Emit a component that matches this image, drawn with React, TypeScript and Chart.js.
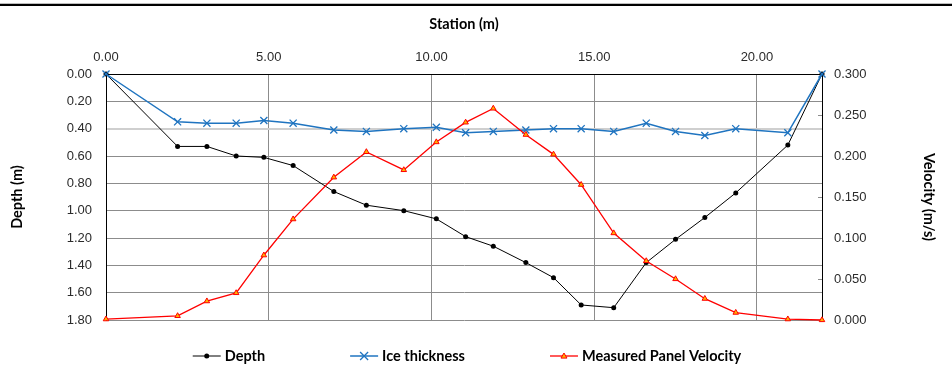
import React, { useEffect, useRef } from "react";
import { Chart, registerables } from "chart.js";

Chart.register(...registerables);

// Station positions (m)
const stations = [0, 2.2, 3.1, 4.0, 4.85, 5.75, 7.0, 8.0, 9.15, 10.15, 11.05, 11.9, 12.9, 13.75, 14.6, 15.6, 16.6, 17.5, 18.4, 19.35, 20.95, 22.0];
// Depth (m)
const depth = [0, 0.53, 0.53, 0.6, 0.61, 0.67, 0.86, 0.96, 1.0, 1.06, 1.19, 1.26, 1.38, 1.49, 1.69, 1.71, 1.38, 1.21, 1.05, 0.87, 0.52, 0];
// Ice thickness (m)
const iceThickness = [0, 0.35, 0.36, 0.36, 0.34, 0.36, 0.41, 0.42, 0.4, 0.39, 0.43, 0.42, 0.41, 0.4, 0.4, 0.42, 0.36, 0.42, 0.45, 0.4, 0.43, 0];
// Measured panel velocity (m/s)
const velocity = [0.001, 0.005, 0.023, 0.033, 0.079, 0.123, 0.174, 0.205, 0.183, 0.217, 0.241, 0.258, 0.226, 0.202, 0.165, 0.106, 0.072, 0.05, 0.026, 0.009, 0.001, 0.0];

const seriesNames = ["Depth", "Ice thickness", "Measured Panel Velocity"];
const axisTitles = { x: "Station (m)", y: "Depth (m)", y1: "Velocity (m/s)" };

const TICK_FONT = { family: "'Liberation Sans', Arial, sans-serif", size: 13 };
const TITLE_FONT = { family: "Lato, 'Open Sans', sans-serif", size: 14.5, weight: "bold" as const };
const TICK_COLOR = "#2b2b2b";
const GRID_COLOR = "#8c8c8c";
const BLUE = "#1f74c0";
const RED = "#ff0000";

const toXY = (ys: number[]) => stations.map((x, i) => ({ x, y: ys[i] }));

const legendPlugin = {
  id: "customLegend",
  afterDraw(chart: any) {
    const ctx = chart.ctx as CanvasRenderingContext2D;
    const area = chart.chartArea;
    const lineLen = 28;
    const gapText = 4;
    const spacing = 85;
    const y = 356;
    ctx.save();
    ctx.font = "bold 14.5px Lato, 'Open Sans', sans-serif";
    ctx.textBaseline = "middle";
    ctx.textAlign = "left";
    const widths = chart.data.datasets.map((d: any) => lineLen + gapText + ctx.measureText(d.label).width);
    const total = widths.reduce((a: number, b: number) => a + b, 0) + spacing * (widths.length - 1);
    let x = (area.left + area.right) / 2 + 3 - total / 2;
    chart.data.datasets.forEach((d: any, i: number) => {
      ctx.strokeStyle = d.borderColor;
      ctx.lineWidth = d.borderWidth;
      ctx.beginPath();
      ctx.moveTo(x, y);
      ctx.lineTo(x + lineLen, y);
      ctx.stroke();
      const cx = x + lineLen / 2;
      if (d.pointStyle === "circle") {
        ctx.fillStyle = d.pointBackgroundColor;
        ctx.beginPath();
        ctx.arc(cx, y, 2.5, 0, Math.PI * 2);
        ctx.fill();
      } else if (d.pointStyle === "crossRot") {
        const r = 4;
        ctx.lineWidth = d.pointBorderWidth;
        ctx.beginPath();
        ctx.moveTo(cx - r, y - r);
        ctx.lineTo(cx + r, y + r);
        ctx.moveTo(cx + r, y - r);
        ctx.lineTo(cx - r, y + r);
        ctx.stroke();
      } else if (d.pointStyle === "triangle") {
        const r = 3;
        ctx.fillStyle = d.pointBackgroundColor;
        ctx.strokeStyle = d.pointBorderColor;
        ctx.lineWidth = 1;
        ctx.beginPath();
        ctx.moveTo(cx, y - r);
        ctx.lineTo(cx + r, y + r * 0.7);
        ctx.lineTo(cx - r, y + r * 0.7);
        ctx.closePath();
        ctx.fill();
        ctx.stroke();
      }
      ctx.fillStyle = "#000";
      ctx.fillText(d.label, x + lineLen + gapText, y);
      x += widths[i] + spacing;
    });
    ctx.restore();
  },
};

export default function App() {
  const canvasRef = useRef<HTMLCanvasElement | null>(null);

  useEffect(() => {
    if (!canvasRef.current) return;
    const chart = new Chart(canvasRef.current, {
      type: "line",
      data: {
        datasets: [
          {
            label: seriesNames[0],
            data: toXY(depth),
            yAxisID: "y",
            borderColor: "#000000",
            backgroundColor: "#000000",
            borderWidth: 1,
            pointStyle: "circle",
            pointRadius: 2.5,
            pointBackgroundColor: "#000000",
            pointBorderColor: "#000000",
            pointBorderWidth: 0,
            clip: false,
            order: 3,
          },
          {
            label: seriesNames[1],
            data: toXY(iceThickness),
            yAxisID: "y",
            borderColor: BLUE,
            backgroundColor: BLUE,
            borderWidth: 1.5,
            pointStyle: "crossRot",
            pointRadius: 5,
            pointBorderColor: BLUE,
            pointBorderWidth: 1.3,
            clip: false,
            order: 2,
          },
          {
            label: seriesNames[2],
            data: toXY(velocity),
            yAxisID: "y1",
            borderColor: RED,
            backgroundColor: RED,
            borderWidth: 1.3,
            pointStyle: "triangle",
            pointRadius: 3.2,
            pointBackgroundColor: "#ffb000",
            pointBorderColor: RED,
            pointBorderWidth: 1,
            clip: false,
            order: 1,
          },
        ] as any,
      },
      options: {
        animation: false,
        responsive: false,
        maintainAspectRatio: false,
        devicePixelRatio: 1,
        layout: { padding: { left: 0, right: 0, top: 0, bottom: 52 } },
        plugins: { legend: { display: false }, tooltip: { enabled: false } },
        elements: { line: { tension: 0 } },
        scales: {
          x: {
            type: "linear",
            position: "top",
            min: 0,
            max: 22,
            ticks: {
              stepSize: 5,
              includeBounds: false,
              autoSkip: false,
              maxRotation: 0,
              padding: 9,
              font: TICK_FONT,
              color: TICK_COLOR,
              callback: (v: any) => Number(v).toFixed(2),
            },
            grid: {
              drawTicks: false,
              color: (c: any) => (c.tick && c.tick.value === 0 ? "#000" : GRID_COLOR),
            },
            border: { display: true, color: "#000", width: 1 },
            title: { display: true, text: axisTitles.x, font: TITLE_FONT, color: "#000", padding: { top: 16, bottom: 0 } },
            afterFit: (s: any) => {
              s.height = 74;
            },
          },
          y: {
            type: "linear",
            position: "left",
            reverse: true,
            min: 0,
            max: 1.8,
            ticks: {
              stepSize: 0.2,
              padding: 14,
              font: TICK_FONT,
              color: TICK_COLOR,
              callback: (v: any) => Number(v).toFixed(2),
            },
            grid: {
              drawTicks: false,
              color: (c: any) => {
                const v = c.tick ? c.tick.value : -1;
                if (Math.abs(v) < 1e-9) return "#000";
                if (Math.abs(v - 0.4) < 1e-9) return "#cfcfcf";
                return GRID_COLOR;
              },
              lineWidth: (c: any) => (c.tick && Math.abs(c.tick.value - 0.4) < 1e-9 ? 2 : 1),
            },
            border: { display: true, color: "#000", width: 1 },
            title: { display: true, text: axisTitles.y, font: TITLE_FONT, color: "#000", padding: { top: 9, bottom: 0 } },
            afterFit: (s: any) => {
              s.width = 106;
            },
          },
          y1: {
            type: "linear",
            position: "right",
            min: 0,
            max: 0.3,
            ticks: {
              stepSize: 0.05,
              padding: 16,
              font: TICK_FONT,
              color: TICK_COLOR,
              callback: (v: any) => Number(v).toFixed(3),
            },
            grid: {
              drawOnChartArea: false,
              drawTicks: true,
              tickLength: -4,
              color: GRID_COLOR,
            },
            border: { display: true, color: "#000", width: 1 },
            title: { display: true, text: axisTitles.y1, font: TITLE_FONT, color: "#000", padding: { top: 15, bottom: 0 } },
            afterFit: (s: any) => {
              s.width = 130;
            },
          },
        },
      } as any,
      plugins: [legendPlugin],
    });
    return () => chart.destroy();
  }, []);

  return (
    <div style={{ position: "fixed", left: 0, top: 0, width: 952, height: 372, background: "#fff" }}>
      <div style={{ position: "absolute", left: 0, top: 3, width: 952, height: 1, background: "#bdbdbd" }} />
      <div style={{ position: "absolute", left: 0, top: 4, width: 952, height: 2, background: "#000" }} />
      <canvas ref={canvasRef} width={952} height={372} style={{ display: "block", width: 952, height: 372 }} />
    </div>
  );
}
